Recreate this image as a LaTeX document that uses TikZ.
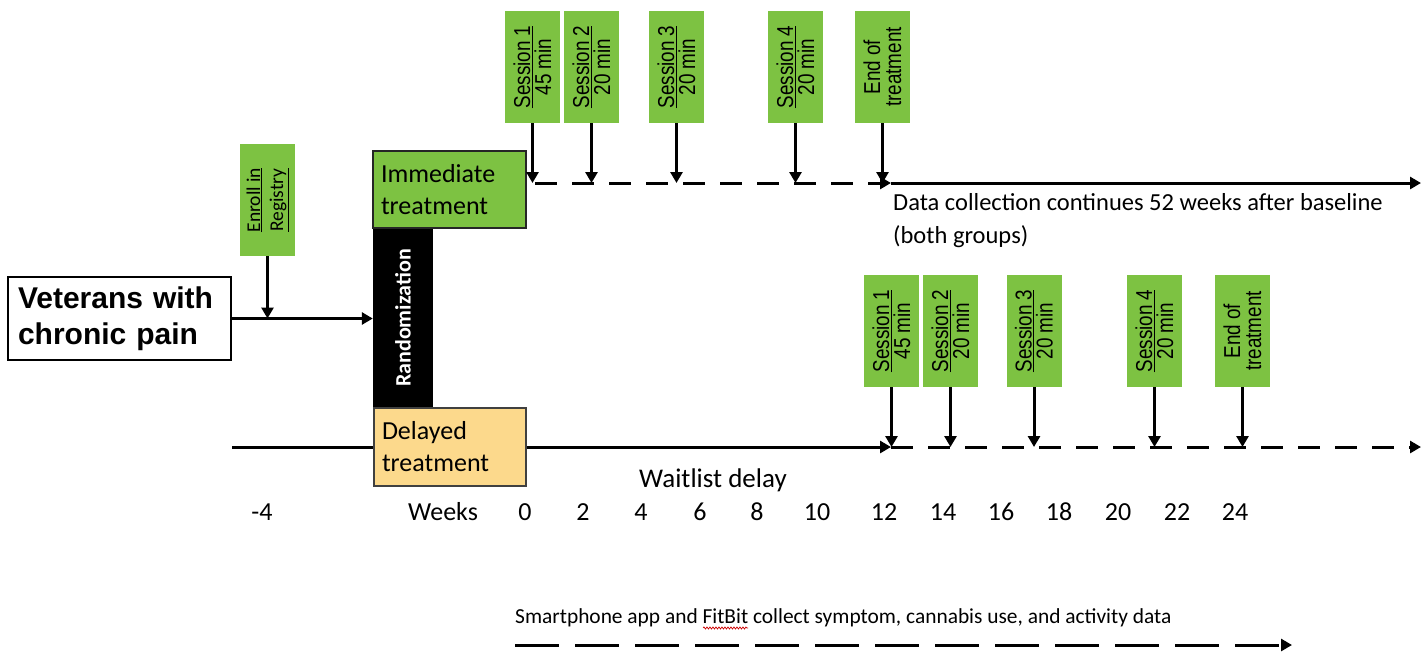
\documentclass[tikz,border=0pt]{standalone}
\usepackage{fontspec}
\setmainfont{Carlito}
\newfontfamily\arialf{Liberation Sans}
\usetikzlibrary{arrows.meta,decorations.pathmorphing}
\definecolor{sgreen}{RGB}{125,194,66}
\definecolor{dyellow}{RGB}{252,217,140}
\newcommand\sqz[1]{\scalebox{0.82}[1]{#1}}
\begin{document}
\begin{tikzpicture}[x=1pt,y=-1pt,
  sess/.style={rectangle, fill=sgreen, rotate=90, minimum width=112pt, minimum height=55pt,
    inner sep=0pt, align=center, font=\arialf\fontsize{23}{21}\selectfont},
  tip/.style={-{Triangle[length=11pt,width=12pt]}},
  arr/.style={line width=3pt, tip},
  solidline/.style={line width=3pt},
  dsh/.style={line width=3pt, dash pattern=on 22pt off 15pt},
  bigdsh/.style={line width=3pt, dash pattern=on 44pt off 16pt},
  cal/.style={inner sep=0pt, font=\fontsize{#1}{#1}\selectfont},
]
\useasboundingbox (0,0) rectangle (1427,654);

% left part
\node[draw=black, line width=1.5pt, fill=white, minimum width=223pt, minimum height=83pt,
  text width=203pt, inner xsep=10pt, align=left,
  font=\arialf\bfseries\fontsize{30}{36}\selectfont] (vet) at (119.5,318.5) {Veterans with\\chronic pain};
\node[sess, font=\fontsize{19.5}{23}\selectfont] (enr) at (267.5,200) {\underline{Enroll in}\\\underline{Registry}};
\node[rectangle, fill=black, rotate=90, minimum width=180pt, minimum height=60pt, inner sep=0pt,
  text=white, font=\bfseries\fontsize{22}{26}\selectfont] (rnd) at (403,318) {Randomization};
\node[draw=black!85, line width=1.2pt, fill=sgreen, minimum width=153pt, minimum height=77pt,
  text width=137pt, inner xsep=8pt, align=left, font=\fontsize{26}{32}\selectfont] (imm) at (449.5,189.5) {Immediate\\treatment};
\node[draw=black!75, line width=1.2pt, fill=dyellow, minimum width=152pt, minimum height=78pt,
  text width=136pt, inner xsep=8pt, align=left, font=\fontsize{26}{32}\selectfont] (del) at (450,447) {Delayed\\treatment};

\draw[arr] (vet.east) -- (vet.east -| rnd.north);
\draw[arr] (enr.west) -- (enr.west |- vet.east);

% upper timeline
\coordinate (uline) at (0,183);
\coordinate (u0) at (535,183);
\coordinate (u1) at (891,183);
\coordinate (u2) at (1421,183);
\draw[dsh, tip] (u0) -- (u1);
\draw[arr] (u1) -- (u2);

\node[sess] (us1) at (532.5,67) {\sqz{\underline{Session 1}}\\\sqz{45 min}};
\node[sess] (us2) at (591.5,67) {\sqz{\underline{Session 2}}\\\sqz{20 min}};
\node[sess] (us3) at (676.5,67) {\sqz{\underline{Session 3}}\\\sqz{20 min}};
\node[sess] (us4) at (795.5,67) {\sqz{\underline{Session 4}}\\\sqz{20 min}};
\node[sess] (ue) at (882.5,67) {\sqz{End of}\\\sqz{treatment}};
\foreach \s in {us1,us2,us3,us4,ue} \draw[arr] (\s.west) -- (\s.west |- uline);

\node[anchor=north west, align=left, inner sep=0pt, font=\fontsize{24.5}{33}\selectfont] (dat) at (893,193)
  {Data collection continues 52 weeks after baseline\\(both groups)};

% lower timeline
\coordinate (lline) at (0,447);
\coordinate (l0) at (232,447);
\coordinate (l1) at (891,447);
\coordinate (l2) at (1421,447);
\draw[solidline] (l0) -- (del.west);
\draw[arr] (del.east) -- (l1);
\draw[dsh, tip] (l1) -- (l2);

\node[sess] (ls1) at (891.5,331) {\sqz{\underline{Session 1}}\\\sqz{45 min}};
\node[sess] (ls2) at (950.5,331) {\sqz{\underline{Session 2}}\\\sqz{20 min}};
\node[sess] (ls3) at (1034,331) {\sqz{\underline{Session 3}}\\\sqz{20 min}};
\node[sess] (ls4) at (1154.5,331) {\sqz{\underline{Session 4}}\\\sqz{20 min}};
\node[sess] (le) at (1242.5,331) {\sqz{End of}\\\sqz{treatment}};
\foreach \s in {ls1,ls2,ls3,ls4,le} \draw[arr] (\s.west) -- (\s.west |- lline);

% weeks axis
\node[cal=27, anchor=base] (wait) at (713,487) {Waitlist delay};
\node[cal=26, anchor=base] (wm4) at (262,520) {-4};
\node[cal=26, anchor=base] (wks) at (443,520) {Weeks};
\foreach \n/\x in {0/525,2/583,4/641,6/700,8/757,10/817,12/884,14/943,16/1001,18/1059,20/1118,22/1177,24/1235}
  \node[cal=26, anchor=base] (w\n) at (\x,520) {\n};

% bottom
\node[cal=21.4, anchor=base west] (sm) at (515,623) {Smartphone app and FitBit collect symptom, cannabis use, and activity data};
\draw[red!80!black, line width=0.7pt, decorate, decoration={snake, amplitude=1pt, segment length=3pt}]
  ([xshift=188pt,yshift=-5pt]sm.base west) -- ([xshift=233pt,yshift=-5pt]sm.base west);
\coordinate (s0) at (515,645);
\coordinate (s1) at (1292,645);
\draw[bigdsh, tip] (s0) -- (s1);
\end{tikzpicture}
\end{document}
